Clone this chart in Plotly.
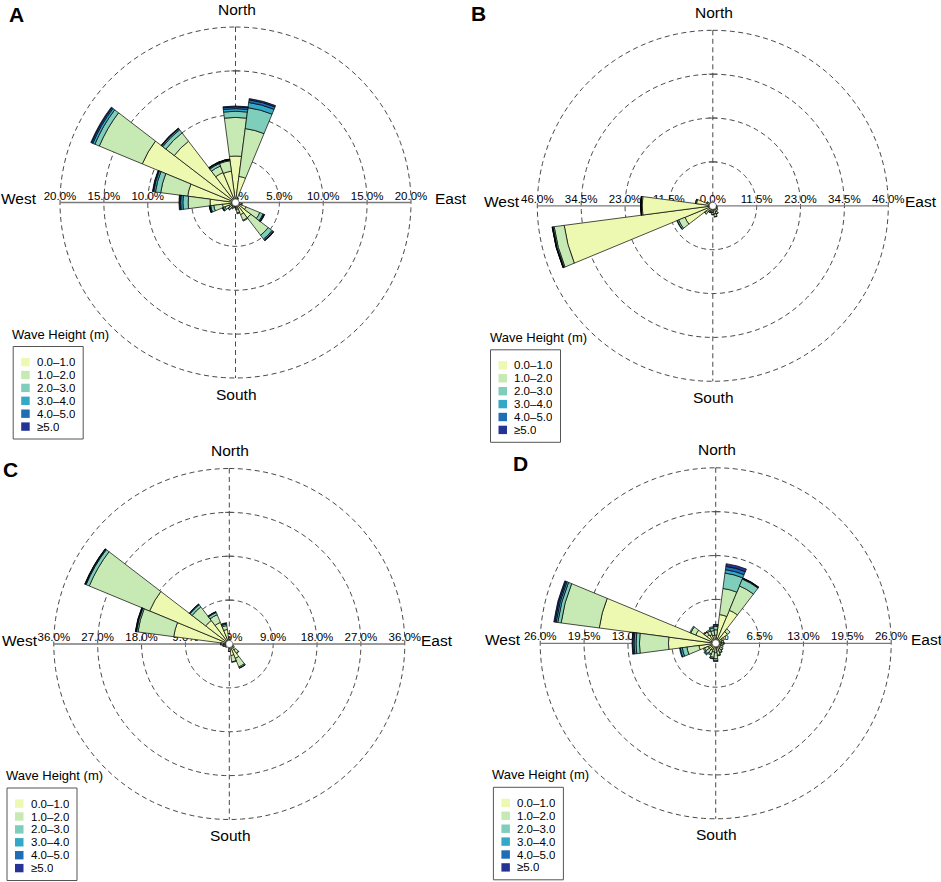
import plotly.graph_objects as go

FIG_W, FIG_H = 941, 882

# ---------------- data ----------------
directions = [0, 15, 30, 45, 60, 75, 90, 105, 120, 135, 150, 165,
              180, 195, 210, 225, 240, 255, 270, 285, 300, 315, 330, 345]
BIN_WIDTH = 15
height_classes = ["0.0–1.0", "1.0–2.0", "2.0–3.0", "3.0–4.0", "4.0–5.0", "≥5.0"]
class_colors = ["#EDF8B1", "#C7E9B4", "#7FCDBB", "#33A8C7", "#1F6DB5", "#253494"]

# Panel A  (frequency %, per wave-height class, per direction)
A_h0_1 = [5.3, 3.0, 0.3, 0.3, 0.2, 0.2, 0.3, 0.4, 1.3, 2.2, 1.5, 0.8, 0.4, 0.3, 0.4, 0.5, 0.8, 1.5, 2.9, 5.5, 11.5, 8.8, 3.7, 3.6]
A_h1_2 = [4.4, 5.5, 0.2, 0.1, 0.1, 0.1, 0.1, 0.3, 1.7, 2.5, 0.7, 0.4, 0.2, 0.2, 0.3, 0.4, 0.5, 1.0, 2.5, 3.1, 5.3, 1.2, 0.8, 1.2]
A_h2_3 = [0.7, 2.4, 0.1, 0, 0, 0, 0, 0.1, 0.4, 0.55, 0.1, 0.1, 0.05, 0.05, 0.1, 0.15, 0.2, 0.35, 0.6, 0.6, 0.55, 0.45, 0.3, 0.1]
A_h3_4 = [0.3, 0.6, 0, 0, 0, 0, 0, 0, 0.1, 0.15, 0, 0, 0, 0, 0, 0.05, 0.1, 0.1, 0.25, 0.2, 0.25, 0.15, 0.1, 0.05]
A_h4_5 = [0.2, 0.3, 0, 0, 0, 0, 0, 0, 0.05, 0.05, 0, 0, 0, 0, 0, 0, 0.02, 0.05, 0.1, 0.1, 0.15, 0.05, 0.05, 0.02]
A_h5p = [0.1, 0.15, 0, 0, 0, 0, 0, 0, 0.05, 0.05, 0, 0, 0, 0, 0, 0, 0, 0.02, 0.1, 0.05, 0.1, 0.05, 0.05, 0.02]

# Panel B
B_h0_1 = [0.65, 0.6, 0.6, 0.6, 0.65, 0.75, 0.8, 1.0, 1.1, 1.3, 1.8, 2.2, 1.8, 1.5, 1.5, 2.2, 7.9, 39.3, 18.5, 4.3, 1.6, 0.95, 0.8, 0.7]
B_h1_2 = [0.15, 0.1, 0.1, 0.1, 0.15, 0.15, 0.2, 0.2, 0.3, 0.4, 0.5, 0.7, 0.5, 0.35, 0.35, 0.5, 1.8, 2.65, 0.3, 0.25, 0.2, 0.15, 0.1, 0.1]
B_h2_3 = [0, 0, 0, 0, 0, 0, 0, 0, 0, 0, 0.1, 0.1, 0.1, 0.05, 0.05, 0.1, 0.4, 0.3, 0.05, 0.05, 0, 0, 0, 0]
B_h3_4 = [0, 0, 0, 0, 0, 0, 0, 0, 0, 0, 0, 0, 0, 0, 0, 0, 0.1, 0.15, 0.02, 0, 0, 0, 0, 0]
B_h4_5 = [0, 0, 0, 0, 0, 0, 0, 0, 0, 0, 0, 0, 0, 0, 0, 0, 0, 0.05, 0.01, 0, 0, 0, 0, 0]
B_h5p = [0, 0, 0, 0, 0, 0, 0, 0, 0, 0, 0, 0, 0, 0, 0, 0, 0, 0.05, 0.01, 0, 0, 0, 0, 0]

# Panel C
C_h0_1 = [1.0, 0.4, 0.3, 0.3, 0.3, 0.3, 0.4, 0.5, 0.8, 1.6, 3.2, 2.4, 1.0, 0.5, 0.5, 0.6, 0.7, 0.9, 1.2, 11.5, 17.7, 6.1, 4.8, 3.0]
C_h1_2 = [0.4, 0.2, 0.1, 0.1, 0.1, 0.1, 0.1, 0.2, 0.3, 0.8, 1.9, 1.3, 0.5, 0.2, 0.2, 0.3, 0.3, 0.4, 0.5, 7.4, 13.4, 3.5, 1.7, 0.8]
C_h2_3 = [0.1, 0, 0, 0, 0, 0, 0, 0, 0, 0.1, 0.25, 0.1, 0.05, 0, 0, 0, 0.05, 0.1, 0.1, 0.3, 0.7, 0.55, 0.5, 0.3]
C_h3_4 = [0, 0, 0, 0, 0, 0, 0, 0, 0, 0, 0.05, 0, 0, 0, 0, 0, 0, 0, 0, 0.1, 0.15, 0.15, 0.15, 0.2]
C_h4_5 = [0, 0, 0, 0, 0, 0, 0, 0, 0, 0, 0, 0, 0, 0, 0, 0, 0, 0, 0, 0.1, 0.1, 0.05, 0.05, 0.1]
C_h5p = [0, 0, 0, 0, 0, 0, 0, 0, 0, 0, 0, 0, 0, 0, 0, 0, 0, 0, 0, 0.05, 0.05, 0, 0, 0]

# Panel D
D_h0_1 = [1.2, 4.3, 5.3, 2.2, 1.1, 0.9, 0.9, 0.8, 0.8, 0.9, 1.0, 1.2, 1.4, 1.3, 1.1, 1.2, 1.2, 2.5, 7.0, 17.4, 3.2, 1.6, 1.4, 1.2]
D_h1_2 = [0.8, 3.9, 3.9, 0.5, 0.3, 0.3, 0.3, 0.3, 0.4, 0.4, 0.5, 0.6, 0.9, 0.8, 0.6, 0.7, 0.6, 1.8, 4.3, 5.7, 0.8, 0.5, 0.6, 0.7]
D_h2_3 = [0.5, 2.3, 1.1, 0, 0, 0, 0.05, 0, 0, 0.05, 0.1, 0.1, 0.3, 0.2, 0.2, 0.2, 0.2, 0.7, 0.5, 0.5, 0.15, 0.1, 0.2, 0.4]
D_h3_4 = [0.2, 0.5, 0.1, 0, 0, 0, 0, 0, 0, 0, 0, 0, 0.1, 0.05, 0, 0.1, 0, 0.3, 0.3, 0.25, 0, 0, 0, 0.2]
D_h4_5 = [0.1, 0.5, 0.05, 0, 0, 0, 0, 0, 0, 0, 0, 0, 0, 0, 0, 0, 0, 0.1, 0.2, 0.2, 0, 0, 0, 0]
D_h5p = [0, 0.4, 0.05, 0, 0, 0, 0, 0, 0, 0, 0, 0, 0, 0, 0, 0, 0, 0, 0.1, 0.15, 0, 0, 0, 0]

A_ticks = [5.0, 10.0, 15.0, 20.0]
B_ticks = [11.5, 23.0, 34.5, 46.0]
C_ticks = [9.0, 18.0, 27.0, 36.0]
D_ticks = [6.5, 13.0, 19.5, 26.0]

legend_title = "Wave Height (m)"
compass = ["North", "East", "South", "West"]

# ---------------- layout config (pixels) ----------------
R = 175.5          # pixel radius of the outermost ring
EXT = 1.03         # small extra radial room so the outer ring is not clipped
panels = [
    dict(letter="A", data=[A_h0_1, A_h1_2, A_h2_3, A_h3_4, A_h4_5, A_h5p], ticks=A_ticks,
         cx=235.5, cy=202.5, ew=198, lx=16.5, ly=14.5),
    dict(letter="B", data=[B_h0_1, B_h1_2, B_h2_3, B_h3_4, B_h4_5, B_h5p], ticks=B_ticks,
         cx=712.8, cy=205.8, ew=191.5, lx=478.3, ly=13.3),
    dict(letter="C", data=[C_h0_1, C_h1_2, C_h2_3, C_h3_4, C_h4_5, C_h5p], ticks=C_ticks,
         cx=229.3, cy=644.0, ew=190.5, lx=10.3, ly=469.0),
    dict(letter="D", data=[D_h0_1, D_h1_2, D_h2_3, D_h3_4, D_h4_5, D_h5p], ticks=D_ticks,
         cx=715.7, cy=643.3, ew=194, lx=520.8, ly=464.0),
]

FONT = "Liberation Sans, Arial, Helvetica, sans-serif"


def px(x):
    return x / FIG_W


def py(y):
    return 1 - y / FIG_H


fig = go.Figure()
layout_polars = {}
annotations = []
shapes = []
circle_theta = list(range(0, 361, 2))
RING = dict(color="#333333", width=0.9, dash="5px,3.5px")

for i, p in enumerate(panels):
    bg = "polar" if i == 0 else f"polar{2 * i + 1}"
    fg = f"polar{2 * i + 2}"
    rmax = p["ticks"][-1]
    cx, cy = p["cx"], p["cy"]
    Rd = R * EXT
    dom = dict(x=[px(cx - Rd), px(cx + Rd)], y=[py(cy + Rd), py(cy - Rd)])
    for name in (bg, fg):
        layout_polars[name] = dict(
            domain=dom, bgcolor="rgba(0,0,0,0)", barmode="stack", bargap=0,
            radialaxis=dict(range=[0, rmax * EXT], visible=False),
            angularaxis=dict(direction="clockwise", rotation=90, visible=False),
        )

    # ---- background: rings, axes lines, tick labels ----
    for t in p["ticks"]:
        fig.add_trace(go.Scatterpolar(
            r=[t] * len(circle_theta), theta=circle_theta, mode="lines", line=RING,
            subplot=bg, hoverinfo="skip", showlegend=False))
    fig.add_trace(go.Scatterpolar(
        r=[rmax, 0, rmax], theta=[0, 0, 180], mode="lines", line=RING,
        subplot=bg, hoverinfo="skip", showlegend=False))
    fig.add_trace(go.Scatterpolar(
        r=[rmax, 0, rmax], theta=[90, 90, 270], mode="lines",
        line=dict(color="#7a7a7a", width=1.3),
        subplot=bg, hoverinfo="skip", showlegend=False))
    fig.add_trace(go.Scatterpolar(
        r=p["ticks"][:-1], theta=[0] * (len(p["ticks"]) - 1), mode="markers",
        marker=dict(symbol="line-ew", size=6, line=dict(color="#555", width=1)),
        subplot=bg, hoverinfo="skip", showlegend=False))
    tick_r = [0] + p["ticks"] + p["ticks"]
    tick_th = [90] + [90] * len(p["ticks"]) + [270] * len(p["ticks"])
    tick_tx = [f"{v:.1f}%" for v in tick_r]
    fig.add_trace(go.Scatterpolar(
        r=tick_r, theta=tick_th, text=tick_tx, mode="text", textposition="top center",
        textfont=dict(family=FONT, size=11.5, color="black"),
        subplot=bg, hoverinfo="skip", showlegend=False, cliponaxis=False))

    # ---- foreground: stacked bars ----
    for k, vals in enumerate(p["data"]):
        fig.add_trace(go.Barpolar(
            r=[v if v > 0 else None for v in vals], theta=directions, width=BIN_WIDTH,
            name=height_classes[k],
            marker=dict(color=class_colors[k], line=dict(color="black", width=0.7)),
            subplot=fg, showlegend=False))
    fig.add_trace(go.Scatterpolar(
        r=[0], theta=[0], mode="markers",
        marker=dict(size=7, color="white", line=dict(color="#333", width=0.5)),
        subplot=fg, hoverinfo="skip", showlegend=False))

    # ---- compass labels ----
    cfont = dict(family=FONT, size=15.5, color="black")
    annotations += [
        dict(x=px(cx + 1), y=py(cy - 193.5), text=compass[0], showarrow=False,
             xanchor="center", yanchor="middle", font=cfont),
        dict(x=px(cx + 1), y=py(cy + 191.5), text=compass[2], showarrow=False,
             xanchor="center", yanchor="middle", font=cfont),
        dict(x=px(cx + p["ew"]), y=py(cy - 4), text=compass[1], showarrow=False,
             xanchor="left", yanchor="middle", font=cfont, borderpad=0),
        dict(x=px(cx - p["ew"]), y=py(cy - 4), text=compass[3], showarrow=False,
             xanchor="right", yanchor="middle", font=cfont, borderpad=0),
        dict(x=px(p["lx"]), y=py(p["ly"]), text=f"<b>{p['letter']}</b>", showarrow=False,
             xanchor="center", yanchor="middle",
             font=dict(family=FONT, size=21, color="black")),
    ]

    # ---- legend (title outside box, compact rows) ----
    bl, bt, bw, bh = cx - 222.3, cy + 144.0, 70.0, 92.5
    shapes.append(dict(type="rect", xref="paper", yref="paper",
                       x0=px(bl), x1=px(bl + bw), y0=py(bt + bh), y1=py(bt),
                       line=dict(color="#555", width=1), fillcolor="white"))
    annotations.append(dict(x=px(bl - 3), y=py(bt - 12.5), text=legend_title, showarrow=False,
                            xanchor="left", yanchor="middle",
                            font=dict(family=FONT, size=13, color="black")))
    for k, lab in enumerate(height_classes):
        yc = bt + 15.6 + 12.9 * k
        shapes.append(dict(type="rect", xref="paper", yref="paper",
                           x0=px(bl + 8.0), x1=px(bl + 16.5), y0=py(yc + 4.2), y1=py(yc - 4.2),
                           line=dict(width=0), fillcolor=class_colors[k]))
        annotations.append(dict(x=px(bl + 22.5), y=py(yc), text=lab, showarrow=False,
                                xanchor="left", yanchor="middle", height=12, borderpad=0,
                                font=dict(family=FONT, size=11.5, color="black")))

fig.update_layout(
    width=FIG_W, height=FIG_H, margin=dict(l=0, r=0, t=0, b=0),
    paper_bgcolor="white", plot_bgcolor="white", showlegend=False,
    annotations=annotations, shapes=shapes, **layout_polars,
)

fig.write_html("out.html", config={"displayModeBar": False},
               post_script="document.body.style.margin='0px';"
                           "document.body.style.overflow='hidden';")
